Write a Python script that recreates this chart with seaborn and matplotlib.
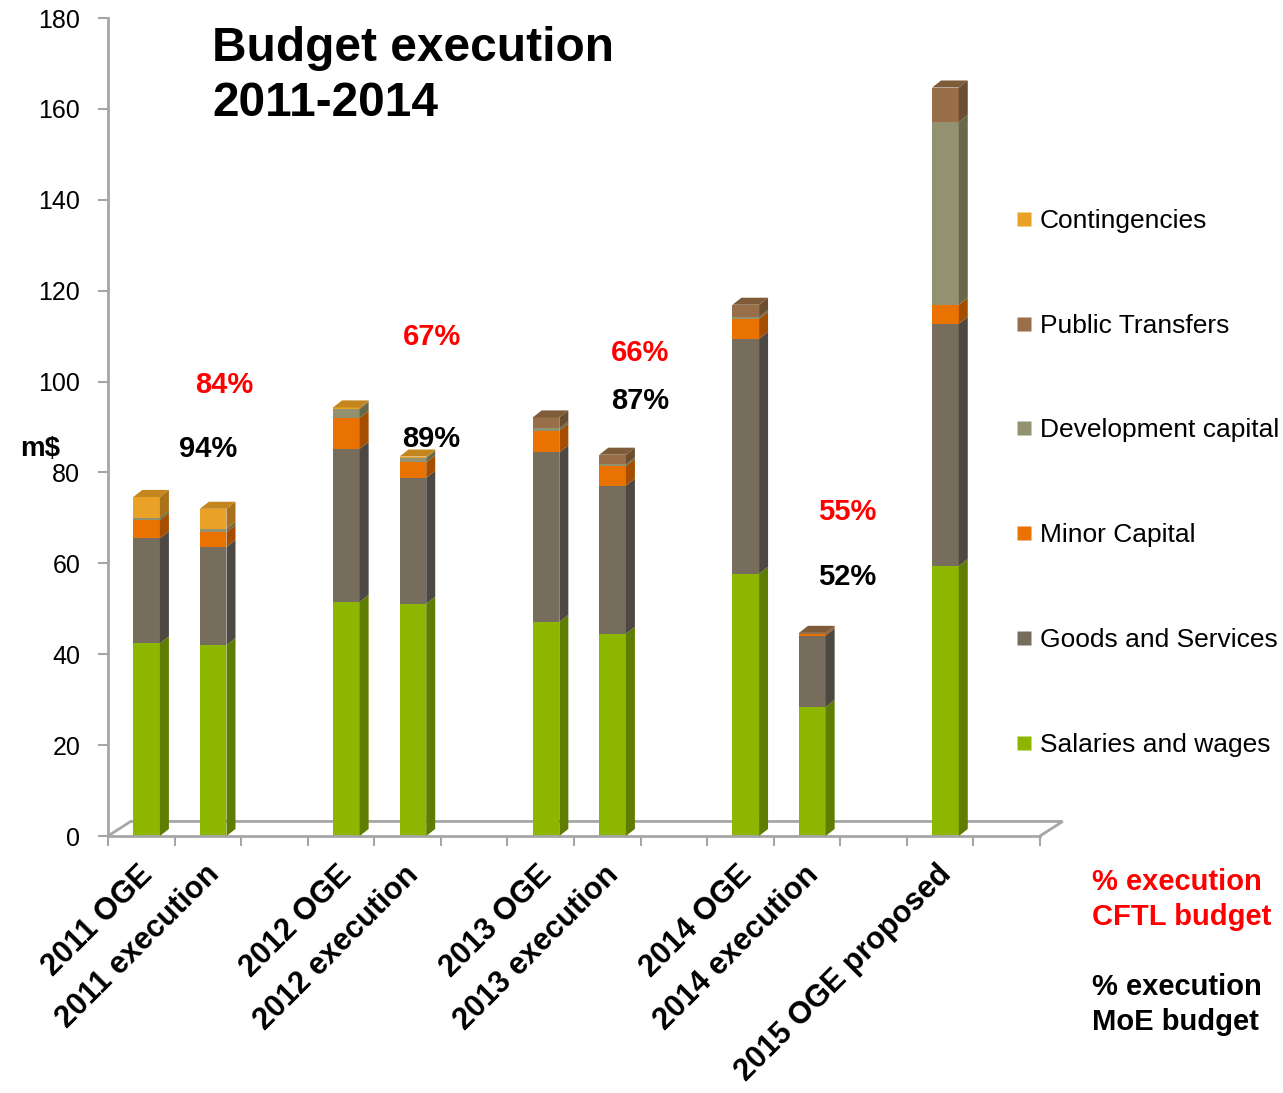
import matplotlib
matplotlib.use("Agg")
import matplotlib.pyplot as plt
import seaborn as sns
import numpy as np
from matplotlib.patches import Polygon
from matplotlib.lines import Line2D

# ---------------- data ----------------
categories = ["2011 OGE", "2011 execution", "2012 OGE", "2012 execution",
              "2013 OGE", "2013 execution", "2014 OGE", "2014 execution",
              "2015 OGE proposed"]
salaries = [42.4, 42.0, 51.5, 51.1, 47.1, 44.5, 57.7, 28.4, 59.4]
goods_services = [23.1, 21.6, 33.7, 27.7, 37.3, 32.6, 51.7, 15.7, 53.3]
minor_capital = [4.0, 3.3, 6.8, 3.4, 4.8, 4.3, 4.4, 0.3, 4.2]
development_capital = [0.5, 0.7, 2.0, 1.0, 0.5, 0.4, 0.4, 0.0, 40.2]
public_transfers = [0.0, 0.0, 0.0, 0.0, 2.4, 2.1, 2.7, 0.3, 7.6]
contingencies = [4.6, 4.4, 0.3, 0.3, 0.0, 0.0, 0.0, 0.0, 0.0]

series_names = ["Salaries and wages", "Goods and Services", "Minor Capital",
                "Development capital", "Public Transfers", "Contingencies"]
cftl_pct = ["84%", "67%", "66%", "55%"]
moe_pct = ["94%", "89%", "87%", "52%"]
yticks = [0, 20, 40, 60, 80, 100, 120, 140, 160, 180]

# ---------------- style ----------------
front_col = ["#8DB600", "#776D5D", "#EA7200", "#929270", "#986F48", "#E9A126"]
side_col = ["#5F7D00", "#4D4842", "#A64E00", "#676749", "#6B4E31", "#A8711A"]
cap_col = ["#7A9D00", "#625A4D", "#C45F00", "#7B7B5C", "#7E5B39", "#C3861E"]

sns.set_style("white")
plt.rcParams["font.family"] = ["Liberation Sans", "DejaVu Sans"]
plt.rcParams["text.color"] = "black"
plt.rcParams["xtick.color"] = "black"
plt.rcParams["ytick.color"] = "black"
plt.rcParams["axes.labelcolor"] = "black"

fig = plt.figure(figsize=(12.83, 10.93), dpi=100)
W, H = 1283.0, 1093.0
ax = fig.add_axes([108 / W, (H - 836) / H, (1040 - 108) / W, (836 - 18) / H])

# slot order with empty gaps
order = [categories[0], categories[1], " ",
         categories[2], categories[3], "  ",
         categories[4], categories[5], "   ",
         categories[6], categories[7], "    ",
         categories[8], "     "]

layers = [salaries, goods_services, minor_capital, development_capital,
          public_transfers, contingencies]
cum = np.cumsum(np.array(layers), axis=0)

shift = 0.08
bw = 0.4
for i in range(len(layers) - 1, -1, -1):
    sns.barplot(x=categories, y=cum[i], order=order, color=front_col[i],
                saturation=1, width=bw, linewidth=0, ax=ax, zorder=2)
    for p in ax.containers[-1]:
        p.set_x(p.get_x() + shift)

base_bars = list(ax.containers[-1])  # salaries layer patches, in category order

# 3-D side faces and caps
dx = 0.135
dy = 1.55
for j, p in enumerate(base_bars):
    x0 = p.get_x()
    x1 = x0 + p.get_width()
    prev = 0.0
    top_layer = 0
    for i in range(len(layers)):
        t = cum[i][j]
        if layers[i][j] > 0:
            ax.add_patch(Polygon([(x1, prev), (x1 + dx, prev + dy),
                                  (x1 + dx, t + dy), (x1, t)],
                                 closed=True, facecolor=side_col[i],
                                 edgecolor="none", zorder=3))
            top_layer = i
        prev = t
    T = cum[-1][j]
    ax.add_patch(Polygon([(x0, T), (x0 + dx, T + dy), (x1 + dx, T + dy), (x1, T)],
                         closed=True, facecolor=cap_col[top_layer],
                         edgecolor="none", zorder=3))

# floor
gray = "#A6A6A6"
fx, fy = 0.34, 3.2
ax.plot([-0.5, -0.5 + fx, 13.5 + fx, 13.5], [0, fy, fy, 0], color=gray,
        lw=2, clip_on=False, zorder=1.5, solid_joinstyle="miter")

ax.set_xlim(-0.5, 13.5)
ax.set_ylim(0, 180)
ax.set_yticks(yticks)
ax.set_ylabel("")
ax.set_xlabel("")

for s in ["top", "right"]:
    ax.spines[s].set_visible(False)
for s in ["left", "bottom"]:
    ax.spines[s].set_color(gray)
    ax.spines[s].set_linewidth(2)

ax.tick_params(axis="y", which="major", direction="out", length=7, width=1.5,
               color=gray, labelcolor="black", labelsize=18, pad=13, left=True)
ax.set_xticks(np.arange(-0.5, 14.0, 1.0), minor=True)
ax.tick_params(axis="x", which="minor", direction="out", length=7, width=1.5,
               color=gray, bottom=True)
ax.tick_params(axis="x", which="major", length=0, pad=17, labelcolor="black")
ax.set_xticks(np.arange(len(order)) - 0.06)
ax.set_xticklabels(order, rotation=45, ha="right", rotation_mode="anchor",
                   fontsize=22, fontweight="bold")

# percentage annotations
pct_x_red = [1.24, 4.36, 7.49, 10.61]
pct_y_red = [99.3, 109.8, 106.3, 71.2]
pct_x_blk = [1.0, 4.36, 7.49, 10.61]
pct_y_blk = [85.2, 87.3, 95.8, 57.0]
for k in range(4):
    ax.text(pct_x_red[k], pct_y_red[k], cftl_pct[k], color="#FF0000",
            fontsize=21, fontweight="bold", ha="center", va="center")
    ax.text(pct_x_blk[k], pct_y_blk[k], moe_pct[k], color="black",
            fontsize=21, fontweight="bold", ha="center", va="center")

# titles and side texts
fig.text(212 / W, 1 - 26 / H, "Budget execution\n2011-2014", fontsize=34.5,
         fontweight="bold", ha="left", va="top", linespacing=1.3)
fig.text(20 / W, 1 - 449 / H, "m$", fontsize=20, fontweight="bold",
         ha="left", va="center")
fig.text(1092 / W, 1 - 868 / H, "% execution\nCFTL budget", fontsize=21,
         fontweight="bold", color="#FF0000", ha="left", va="top",
         linespacing=1.3)
fig.text(1092 / W, 1 - 973 / H, "% execution\nMoE budget", fontsize=21,
         fontweight="bold", color="black", ha="left", va="top",
         linespacing=1.3)

# legend
handles = [Line2D([], [], linestyle="none", marker="s", markersize=9.5,
                  markerfacecolor=front_col[i], markeredgecolor="none",
                  label=series_names[i])
           for i in range(len(series_names) - 1, -1, -1)]
fig.legend(handles=handles, loc="upper left",
           bbox_to_anchor=(1016 / W, 1 - 209 / H), bbox_transform=fig.transFigure,
           frameon=False, fontsize=19, handlelength=0.6, handletextpad=0.3,
           labelspacing=3.06, borderpad=0, borderaxespad=0)

fig.savefig("out.png", dpi=100)
